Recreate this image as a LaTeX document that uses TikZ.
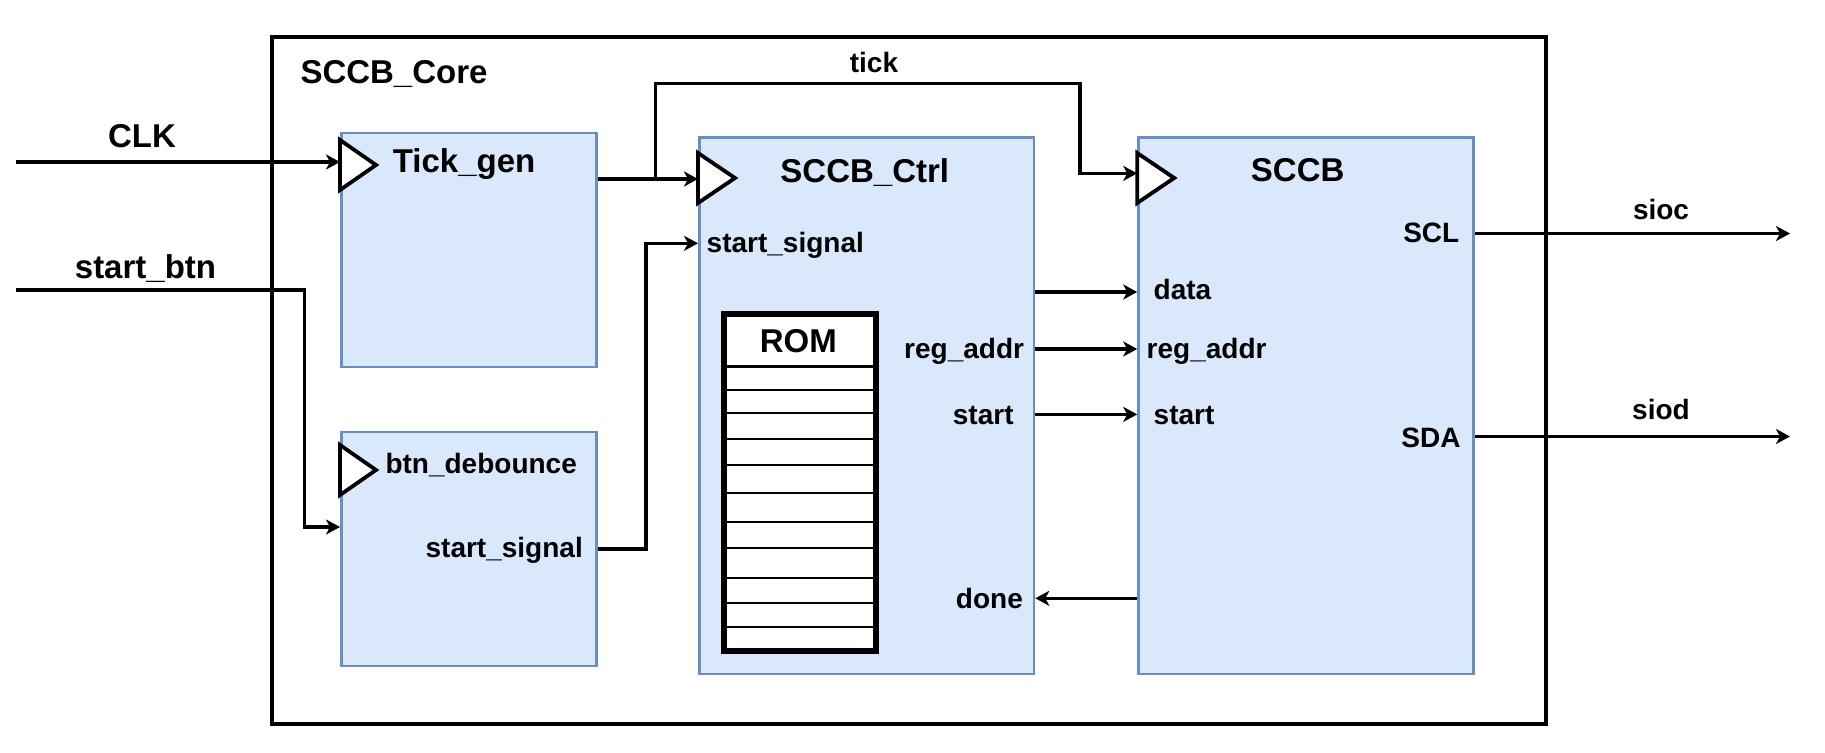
\documentclass[tikz,border=0pt]{standalone}
\usepackage{fontspec}
\setmainfont{Liberation Sans}
\usetikzlibrary{arrows.meta}
\definecolor{blkfill}{HTML}{DAE8FC}
\definecolor{blkline}{HTML}{6C8EBF}
\tikzset{
  blk/.style={draw=blkline, fill=blkfill, line width=2.7pt, rectangle, inner sep=0pt, anchor=north west},
  outer/.style={draw=black, line width=4pt, rectangle, inner sep=0pt, anchor=north west},
  wire/.style={draw=black, line width=3.3pt},
  arr/.style={wire, -{Stealth[length=14pt,width=15pt,inset=4pt]}},
  clktri/.style={draw=black, fill=white, line width=3.8pt, line join=miter},
  big/.style={font=\fontsize{33}{40}\selectfont\bfseries, inner sep=0pt, text height=23.5pt, text depth=0pt},
  small/.style={font=\fontsize{28}{33}\selectfont\bfseries, inner sep=0pt, text height=20pt, text depth=0pt},
  romrow/.style={draw=black, line width=2.4pt},
}
\begin{document}
\begin{tikzpicture}[x=1pt,y=-1pt]
\useasboundingbox (0,0) rectangle (1825,752);
% outer box
\node[outer, minimum width=1273.5pt, minimum height=686.6pt] (core) at (270,35) {};
\node[big, anchor=west] (corelbl) at (300.3,72.2) {SCCB\_Core};
% blocks
\node[blk, minimum width=254.8pt, minimum height=233.8pt] (tick) at (340,131.7) {};
\node[blk, minimum width=254.8pt, minimum height=234pt] (deb) at (340,430.6) {};
\node[blk, minimum width=334.6pt, minimum height=536.5pt] (ctrl) at (698,136.2) {};
\node[blk, minimum width=335.2pt, minimum height=536.5pt] (sccb) at (1137.2,136.2) {};
% ROM
\node[draw=black, fill=white, line width=4pt, rectangle, inner sep=0pt, anchor=north west,
      minimum width=150pt, minimum height=334.8pt] (rom) at (723.2,312.7) {};
\foreach \yy in {390,413,439,465,493,522,548,578,603,627}{
  \draw[romrow] (rom.west |- 0,\yy) -- (rom.east |- 0,\yy);
}
\draw[romrow, line width=3pt] (rom.west |- 0,366.7) -- (rom.east |- 0,366.7);
\draw[draw=black, line width=4pt] (rom.north west) rectangle (rom.south east);
\node[big] (romlbl) at (798.4,341) {ROM};
% clock triangles
\draw[clktri] (tick.west |- 0,140) -- ++(36,25) -- ++(-36,25) -- cycle;
\draw[clktri] (ctrl.west |- 0,153) -- ++(37,25) -- ++(-37,25) -- cycle;
\draw[clktri] (sccb.west |- 0,153) -- ++(37,25) -- ++(-37,25) -- cycle;
\draw[clktri] (deb.west |- 0,445) -- ++(36,25) -- ++(-36,25) -- cycle;
% block labels
\node[big, anchor=west] (ticklbl) at (392.7,160.5) {Tick\_gen};
\node[big] (ctrllbl) at (864.8,171) {SCCB\_Ctrl};
\node[big] (sccblbl) at (1297.7,170) {SCCB};
\node[small, anchor=west] (deblbl) at (385.3,463) {btn\_debounce};
\node[small, anchor=east] (debss) at (583,547) {start\_signal};
\node[small, anchor=west] (ctrlss) at (706.5,242) {start\_signal};
\node[small, anchor=east] (ctrlra) at (1024.2,348) {reg\_addr};
\node[small, anchor=east] (ctrlst) at (1013.8,414) {start};
\node[small, anchor=east] (ctrldn) at (1023,598) {done};
\node[small, anchor=west] (sccbdata) at (1153.5,289.8) {data};
\node[small, anchor=west] (sccbra) at (1146.5,348) {reg\_addr};
\node[small, anchor=west] (sccbst) at (1153.5,414) {start};
\node[small, anchor=east] (scl) at (1459.5,232.8) {SCL};
\node[small, anchor=east] (sda) at (1460.7,437.6) {SDA};
% external labels
\node[big] (clklbl) at (142,136) {CLK};
\node[big] (sblbl) at (145.5,266.5) {start\_btn};
\node[small] (ticksig) at (874,62.9) {tick};
\node[small] (sioclbl) at (1661,209.5) {sioc};
\node[small] (siodlbl) at (1661,409.7) {siod};
% free ends
\coordinate (clkin) at (16,162);
\coordinate (sbin) at (16,290);
\coordinate (siocout) at (1790,233.5);
\coordinate (siodout) at (1790,436.5);
\coordinate (br) at (655.3,179);
% connectors
\draw[arr] (clkin) -- (tick.west |- clkin);
\draw[arr] (sbin) -| (304.3,527) -- (deb.west |- 0,527);
\draw[arr] (tick.east |- br) -- (ctrl.west |- br);
\draw[arr] (br) |- (1080.1,83.8) |- (sccb.west |- 0,173.4);
\draw[arr] (deb.east |- 0,549) -| (646,243.3) -- (ctrl.west |- 0,243.3);
\draw[arr] (ctrl.east |- 0,292) -- (sccb.west |- 0,292);
\draw[arr] (ctrl.east |- 0,349) -- (sccb.west |- 0,349);
\draw[arr] (ctrl.east |- 0,414.4) -- (sccb.west |- 0,414.4);
\draw[arr] (sccb.west |- 0,598.3) -- (ctrl.east |- 0,598.3);
\draw[arr] (sccb.east |- siocout) -- (siocout);
\draw[arr] (sccb.east |- siodout) -- (siodout);
\end{tikzpicture}
\end{document}
